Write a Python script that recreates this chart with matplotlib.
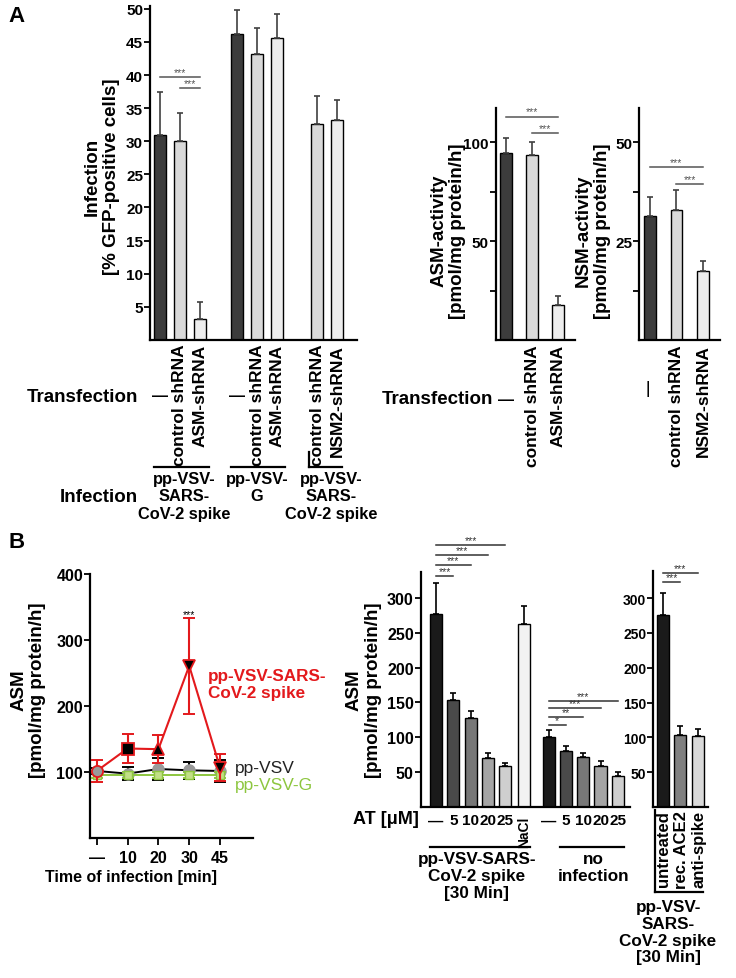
import numpy as np
import matplotlib
matplotlib.use("Agg")
import matplotlib.pyplot as plt

plt.rcParams['font.family'] = ['Liberation Sans', 'DejaVu Sans']
plt.rcParams['font.weight'] = 'bold'
plt.rcParams['axes.labelweight'] = 'bold'

# ---------------- data ----------------
# A: infection (% GFP-positive cells)
inf_labels = ['—', 'control shRNA', 'ASM-shRNA', '—', 'control shRNA', 'ASM-shRNA',
              'control shRNA', 'NSM2-shRNA']
inf_vals = [31.0, 30.0, 3.2, 46.2, 43.1, 45.6, 32.6, 33.2]
inf_err = [6.5, 4.3, 2.5, 3.6, 4.0, 3.6, 4.3, 3.0]
inf_groups = ['pp-VSV-\nSARS-\nCoV-2 spike', 'pp-VSV-\nG', 'pp-VSV-\nSARS-\nCoV-2 spike']

# A: ASM / NSM activity
asm_labels = ['—', 'control shRNA', 'ASM-shRNA']
asm_vals = [94.6, 93.4, 17.7]
asm_err = [7.4, 6.6, 4.8]
nsm_labels = ['—', 'control shRNA', 'NSM2-shRNA']
nsm_vals = [31.3, 32.9, 17.6]
nsm_err = [5.0, 5.1, 2.5]

# B: time course
time_labels = ['—', '10', '20', '30', '45']
spike = [102, 136, 135, 261, 107]
spike_err = [17, 22, 21, 73, 20]
vsv = [102, 98, 105, 103, 102]
vsv_err = [5, 10, 16, 13, 17]
vsvg = [96, 96, 96, 96, 96]
vsvg_err = [5, 5, 5, 5, 5]

# B: amitriptyline
at_labels = ['—', '5', '10', '20', '25', 'NaCl', '—', '5', '10', '20', '25']
at_spike = [277, 153, 128, 70, 58, 262]
at_spike_err = [44, 11, 10, 6.5, 5, 26.5]
at_noinf = [100.5, 80, 71, 58, 44.5]
at_noinf_err = [10, 6.6, 5.5, 7, 4.5]

# B: ACE2 / anti-spike
blk_labels = ['untreated', 'rec. ACE2', 'anti-spike']
blk_vals = [276, 103.4, 101.6]
blk_err = [32, 13.6, 10.4]

W, H = 736, 979
fig = plt.figure(figsize=(W / 100, H / 100), dpi=100)


def px_axes(left, top, right, bottom, tick_size=11):
    ax = fig.add_axes([left / W, 1 - bottom / H, (right - left) / W, (bottom - top) / H])
    for s in ['top', 'right']:
        ax.spines[s].set_visible(False)
    for s in ['left', 'bottom']:
        ax.spines[s].set_linewidth(1.6)
    ax.tick_params(axis='y', direction='out', length=4, width=1.3, labelsize=tick_size, pad=1)
    ax.tick_params(axis='x', length=0, labelbottom=False)
    ax.set_facecolor('none')
    return ax


def ftext(x, y, s, **kw):
    fig.text(x / W, 1 - y / H, s, **kw)


def below(ax, x, dy, s, **kw):
    kw.setdefault('ha', 'center')
    kw.setdefault('fontsize', 12.5)
    kw.setdefault('fontweight', 'bold')
    ax.annotate(s, xy=(x, 0), xycoords=('data', 'axes fraction'), xytext=(0, -dy),
                textcoords='offset pixels', annotation_clip=False, **kw)


def under_line(ax, x0, x1, dy, dy0=None):
    # horizontal group line below the axis, optional left upright part
    h = ax.get_position().height * H
    ax.plot([x0, x1], [-dy / h, -dy / h], color='black', lw=1.6,
            transform=ax.get_xaxis_transform(), clip_on=False)
    if dy0 is not None:
        ax.plot([x0, x0], [-dy0 / h, -dy / h], color='black', lw=1.6,
                transform=ax.get_xaxis_transform(), clip_on=False)


def sig(ax, x0, x1, y, s, color='#555555'):
    ax.plot([x0, x1], [y, y], color=color, lw=1.1, clip_on=False)
    ax.text((x0 + x1) / 2, y, s, ha='center', va='bottom', fontsize=7.5,
            fontweight='normal', color=color, clip_on=False)


bar_kw = dict(edgecolor='black', linewidth=1, zorder=2)
err_kw = dict(ecolor='#404040', elinewidth=1.2, capsize=2.5, capthick=1.2)
lab_fs = 13.5
grp_fs = 11.8

# ---------------- A: infection ----------------
inf_pos = [0, 1, 2, 3.85, 4.85, 5.85, 7.85, 8.85]
inf_colors = ['#3c3c3c', '#d9d9d9', '#ededed'] * 2 + ['#d9d9d9', '#ededed']
axA = px_axes(150, 6.5, 357, 340.8)
axA.bar(inf_pos, inf_vals, 0.575, color=inf_colors,
        yerr=[np.zeros(len(inf_err)), inf_err], error_kw=err_kw, **bar_kw)
axA.set_xlim(-0.5, 9.85)
axA.set_ylim(0, 50.5)
axA.set_yticks(range(5, 51, 5))
axA.set_ylabel('Infection\n[% GFP-positive cells]', fontsize=lab_fs, linespacing=1.15)
axA.yaxis.set_label_coords(-0.145, 0.49)
sig(axA, inf_pos[0], inf_pos[2], 39.7, '***')
sig(axA, inf_pos[1], inf_pos[2], 38.0, '***')
for p, lab in zip(inf_pos, inf_labels):
    if lab == '—':
        below(axA, p, 56, lab, va='center', fontsize=11.5)
    else:
        below(axA, p, 4, lab, va='top', rotation=90)
under_line(axA, -0.3, 2.45, 127)
under_line(axA, 3.55, 6.25, 127)
under_line(axA, 7.45, 9.1, 127, dy0=112)
for gx, g in zip([1.2, 4.85, 8.55], inf_groups):
    below(axA, gx, 131, g, va='top', fontsize=grp_fs, linespacing=1.2)
ftext(138, 398, 'Transfection', ha='right', va='center', fontsize=lab_fs)
ftext(138, 498, 'Infection', ha='right', va='center', fontsize=lab_fs)
ftext(8, 16, 'A', ha='left', va='center', fontsize=16)

# ---------------- A: ASM activity ----------------
cols3 = ['#3c3c3c', '#d9d9d9', '#ededed']
axM = px_axes(495.7, 109, 575, 341.3)
axM.bar(range(3), asm_vals, 0.45, color=cols3,
        yerr=[np.zeros(3), asm_err], error_kw=err_kw, **bar_kw)
axM.set_xlim(-0.4, 2.65)
axM.set_ylim(0, 117.3)
axM.set_yticks([50, 100])
axM.set_yticks([25, 75], minor=True)
axM.tick_params(axis='y', which='minor', length=4, width=1.3)
axM.set_ylabel('ASM-activity\n[pmol/mg protein/h]', fontsize=lab_fs, linespacing=1.15)
axM.yaxis.set_label_coords(-0.37, 0.475)
sig(axM, 0, 2, 113, '***')
sig(axM, 1, 2, 104.5, '***')
for p, lab in enumerate(asm_labels):
    if lab == '—':
        below(axM, p, 59, lab, va='center', fontsize=11.5)
    else:
        below(axM, p, 4, lab, va='top', rotation=90)
ftext(493, 400, 'Transfection', ha='right', va='center', fontsize=lab_fs)

# ---------------- A: NSM activity ----------------
axN = px_axes(639.3, 109, 720, 341.3)
axN.bar(range(3), nsm_vals, 0.43, color=cols3,
        yerr=[np.zeros(3), nsm_err], error_kw=err_kw, **bar_kw)
axN.set_xlim(-0.4, 2.64)
axN.set_ylim(0, 58.7)
axN.set_yticks([25, 50])
axN.set_yticks([12.5, 37.5], minor=True)
axN.tick_params(axis='y', which='minor', length=4, width=1.3)
axN.set_ylabel('NSM-activity\n[pmol/mg protein/h]', fontsize=lab_fs, linespacing=1.15)
axN.yaxis.set_label_coords(-0.35, 0.475)
sig(axN, 0, 2, 43.7, '***')
sig(axN, 1, 2, 39.4, '***')
for p, lab in enumerate(nsm_labels):
    if lab == '—':
        below(axN, p, 47, lab, va='center', rotation=90, fontsize=11.5)
    else:
        below(axN, p, 4, lab, va='top', rotation=90)

# ---------------- B: time course ----------------
red = '#e3191c'
green = '#8dc63f'
t = np.arange(len(time_labels))
axL = px_axes(90, 575, 253, 839.4, tick_size=11.5)
axL.errorbar(t, vsv, yerr=vsv_err, color='black', lw=1.4, capsize=4, capthick=1.4,
             marker='o', ms=8, mfc='#9a9a9a', mec='#9a9a9a', zorder=3)
axL.errorbar(t, vsvg, yerr=vsvg_err, color=green, lw=1.4, capsize=4, capthick=1.4,
             marker='s', ms=6, mfc='#c2df85', mec=green, zorder=4)
axL.errorbar(t, spike, yerr=spike_err, color=red, lw=1.5, capsize=4, capthick=1.4,
             zorder=5)
for xi, yi, m in zip(t, spike, ['o', 's', '^', 'v', 'v']):
    fc = '#9a9a9a' if m == 'o' else 'black'
    axL.plot(xi, yi, marker=m, ms=8, mfc=fc, mec=red, mew=1.3, zorder=6)
axL.set_xlim(-0.22, 5.07)
axL.set_ylim(0, 400)
axL.set_yticks([100, 200, 300, 400])
axL.set_xticks(t, time_labels)
axL.tick_params(axis='x', length=5, width=1.3, labelbottom=True, labelsize=11.5, pad=3)
axL.set_ylabel('ASM\n[pmol/mg protein/h]', fontsize=lab_fs, linespacing=1.15)
axL.yaxis.set_label_coords(-0.27, 0.565)
axL.text(0.25, -0.145, 'Time of infection [min]', transform=axL.transAxes,
         ha='center', va='center', fontsize=11.5)
axL.text(3, 332, '***', ha='center', va='bottom', fontsize=7.5, fontweight='normal')
axL.text(3.6, 234, 'pp-VSV-SARS-\nCoV-2 spike', color=red, ha='left', va='center',
         fontsize=12.3, linespacing=1.15)
axL.text(4.49, 108, 'pp-VSV', color='#222222', ha='left', va='center',
         fontsize=12.5, fontweight='normal')
axL.text(4.49, 82, 'pp-VSV-G', color=green, ha='left', va='center',
         fontsize=12.5, fontweight='normal')
ftext(8, 542, 'B', ha='left', va='center', fontsize=16)

# ---------------- B: amitriptyline ----------------
at_pos = [0, 1, 2, 3, 4, 5.1, 6.5, 7.5, 8.5, 9.5, 10.5]
greys = ['#1a1a1a', '#4a4a4a', '#777777', '#a5a5a5', '#cfcfcf', '#f2f2f2']
axB = px_axes(420.7, 573.3, 630, 807.5, tick_size=11.5)
axB.bar(at_pos[:6], at_spike, 0.7, color=greys,
        yerr=[np.zeros(6), at_spike_err],
        error_kw=dict(err_kw, ecolor='black'), **bar_kw)
axB.bar(at_pos[6:], at_noinf, 0.7, color=greys[:5],
        yerr=[np.zeros(5), at_noinf_err],
        error_kw=dict(err_kw, ecolor='black'), **bar_kw)
axB.set_xlim(-0.88, 11.2)
axB.set_ylim(0, 337)
axB.set_yticks(range(50, 301, 50))
axB.set_ylabel('ASM\n[pmol/mg protein/h]', fontsize=lab_fs, linespacing=1.15)
axB.yaxis.set_label_coords(-0.185, 0.5)
for y, j in zip([376, 362, 347.5, 331.7], [4, 3, 2, 1]):
    sig(axB, at_pos[0], at_pos[j], y, '***', color='#333333')
for y, j, s in zip([151.4, 141.3, 128.3, 117.7], [10, 9, 8, 7], ['***', '***', '**', '*']):
    sig(axB, at_pos[6], at_pos[j], y, s, color='#333333')
for p, lab in zip(at_pos, at_labels):
    if lab == 'NaCl':
        below(axB, p, 9, lab, va='top', rotation=90, fontsize=10)
    else:
        below(axB, p, 14, lab, va='center', fontsize=11)
ftext(419, 820, 'AT [μM]', ha='right', va='center', fontsize=13)
under_line(axB, -0.35, 5.43, 40)
under_line(axB, 7.17, 10.85, 40)
below(axB, 2.35, 45, 'pp-VSV-SARS-\nCoV-2 spike\n[30 Min]', va='top', fontsize=12.3,
      linespacing=1.15)
below(axB, 9.07, 45, 'no\ninfection', va='top', fontsize=12.3, linespacing=1.15)

# ---------------- B: ACE2 / anti-spike ----------------
axR = px_axes(653.3, 572.3, 708, 808, tick_size=10)
axR.bar(range(3), blk_vals, 0.7, color=['#1a1a1a', '#808080', '#d9d9d9'],
        yerr=[np.zeros(3), blk_err], error_kw=dict(err_kw, ecolor='black'), **bar_kw)
axR.set_xlim(-0.54, 2.58)
axR.set_ylim(0, 338.6)
axR.set_yticks(range(50, 301, 50))
sig(axR, 0, 2, 336.6, '***', color='#333333')
sig(axR, 0, 1, 323, '***', color='#333333')
for p, lab in enumerate(blk_labels):
    below(axR, p + 0.05, 3, lab, va='top', rotation=90, fontsize=12)
under_line(axR, -0.42, 2.3, 85, dy0=3)
below(axR, 0.3, 92, 'pp-VSV-\nSARS-\nCoV-2 spike\n[30 Min]', va='top', fontsize=12.3,
      linespacing=1.15)

fig.savefig('out.png', dpi=100)
